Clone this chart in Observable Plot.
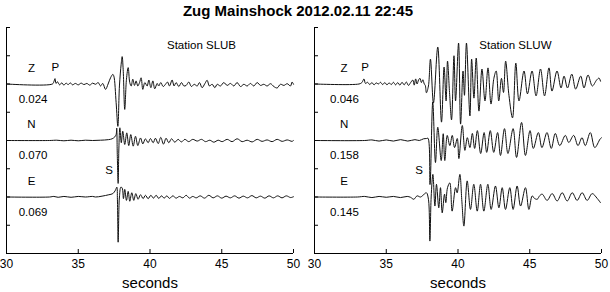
<!DOCTYPE html>
<html><head><meta charset="utf-8">
<script src="https://cdn.jsdelivr.net/npm/d3@7"></script>
<script src="https://cdn.jsdelivr.net/npm/@observablehq/plot@0.6"></script>
<style>
body{margin:0;background:#fff;}
#wrap{position:relative;width:610px;height:292px;overflow:hidden;font-family:"Liberation Sans",Arial,Helvetica,sans-serif;background:#fff;}
#title{position:absolute;top:2px;left:0;width:596px;text-align:center;font-weight:bold;font-size:15px;line-height:17px;z-index:2;}
.panel{position:absolute;top:0;}
</style></head><body>
<div id="wrap"><div id="title">Zug Mainshock 2012.02.11 22:45</div></div>
<script>
// ---------- data ----------
const title = "Zug Mainshock 2012.02.11 22:45";
const stations = ["Station SLUB", "Station SLUW"];
const components = ["Z", "N", "E"];
const slubAmps = ["0.024", "0.070", "0.069"];
const sluwAmps = ["0.046", "0.158", "0.145"];
const xTicks = [30, 35, 40, 45, 50];
const pPick = [33.41, 33.52];
const sPick = [37.14, 37.28];

const slubZ = [[30,0],[33.2,0],[33.3,0.08],[33.38,0.19],[33.45,0.02],[33.55,0.08],[33.7,-0.03],[33.85,0.04],[34.0,-0.04],[34.15,0.03],[34.3,-0.02],[34.45,0.04],[34.6,-0.03],[34.8,0.02],[35.0,-0.03],[35.2,0.03],[35.4,-0.02],[35.6,0.02],[35.8,-0.04],[36.0,0.03],[36.2,-0.01],[36.39,0.05],[36.55,-0.07],[36.71,0.02],[36.9,-0.19],[37.08,0],[37.25,0.22],[37.41,0.34],[37.48,0.28],[37.64,-0.66],[37.76,-1.5],[37.87,-0.07],[37.99,0.7],[38.06,0.97],[38.13,0.52],[38.24,-0.9],[38.36,0.17],[38.48,0.58],[38.59,0.05],[38.69,-0.07],[38.8,0.17],[38.92,-0.05],[39.03,0.11],[39.15,-0.07],[39.27,0.05],[39.38,0.22],[39.5,-0.19],[39.64,0.05],[39.8,-0.07],[39.92,0.14],[40.06,-0.13],[40.2,0.11],[40.33,-0.17],[40.5,0.02],[40.61,-0.07],[40.75,0.05],[40.92,-0.09],[41.08,-0.01],[41.22,0.07],[41.36,-0.07],[41.54,0.14],[41.68,-0.07],[41.82,0.05],[42.01,-0.09],[42.19,0.05],[42.36,-0.07],[42.52,-0.05],[42.7,0.07],[42.89,-0.09],[43.08,-0.01],[43.29,-0.07],[43.45,0.05],[43.63,-0.13],[43.82,0.01],[43.98,0.13],[44.14,-0.07],[44.33,-0.01],[44.52,-0.13],[44.68,-0.01],[44.91,-0.07],[45.14,0.05],[45.38,-0.05],[45.61,0.02],[45.84,-0.07],[46.07,0.05],[46.31,-0.09],[46.54,-0.01],[46.77,-0.07],[47.0,0.02],[47.23,-0.07],[47.47,0.05],[47.7,-0.05],[47.93,-0.01],[48.16,-0.07],[48.4,0.01],[48.63,-0.09],[48.86,-0.14],[49.09,-0.01],[49.33,-0.05],[49.56,0.01],[49.79,-0.07],[49.9,0.07],[50.0,-0.01]];

const slubN = [[30,0],[33.0,0],[33.5,0.01],[34.0,-0.01],[34.5,0.01],[35.0,-0.01],[35.5,0.01],[36.0,0],[36.55,0.01],[37.1,0.03],[37.36,0.06],[37.55,0.13],[37.64,0.21],[37.68,0.44],[37.72,-0.5],[37.78,-1.52],[37.83,-0.3],[37.9,0.45],[38.0,-0.08],[38.1,0.33],[38.24,-0.14],[38.38,0.27],[38.52,-0.18],[38.66,0.21],[38.83,-0.2],[38.99,0.15],[39.15,-0.18],[39.34,0.09],[39.5,-0.12],[39.68,0.06],[39.87,-0.08],[40.03,0.07],[40.22,-0.08],[40.38,0.08],[40.57,-0.11],[40.75,0.11],[40.94,-0.13],[41.12,0.08],[41.31,-0.08],[41.5,0.06],[41.73,-0.06],[41.96,0.04],[42.19,-0.05],[42.43,0.04],[42.7,-0.04],[42.98,0.04],[43.29,-0.02],[43.59,0.04],[43.87,-0.04],[44.17,0.01],[44.45,-0.06],[44.75,0.01],[45.03,-0.04],[45.38,0.04],[45.72,-0.04],[46.07,0.06],[46.42,-0.04],[46.77,0.01],[47.12,-0.05],[47.47,0.04],[47.81,-0.03],[48.16,0.02],[48.51,-0.04],[48.86,0.04],[49.21,-0.03],[49.56,0.02],[49.9,-0.03],[50.0,0]];

const slubE = [[30,0],[33.0,0],[33.3,0.02],[33.6,-0.01],[34.0,0.02],[34.5,-0.01],[35.0,0.02],[35.5,0],[36.0,0.02],[36.2,0],[36.66,0.03],[37.13,0.08],[37.41,0.12],[37.59,0.24],[37.69,0.35],[37.73,-0.1],[37.78,-1.6],[37.84,-0.3],[37.87,0.0],[37.97,0.35],[38.06,0.32],[38.15,-0.06],[38.24,0.27],[38.36,-0.12],[38.48,0.2],[38.59,-0.15],[38.73,0.15],[38.87,-0.12],[39.01,0.12],[39.17,-0.08],[39.34,0.08],[39.52,-0.06],[39.68,0.06],[39.87,-0.06],[40.06,0.06],[40.24,-0.04],[40.43,0.06],[40.61,-0.05],[40.8,0.04],[40.99,-0.04],[41.17,0.04],[41.36,-0.05],[41.59,0.04],[41.82,-0.04],[42.05,0.02],[42.29,-0.03],[42.52,0.06],[42.75,-0.04],[42.98,0.02],[43.22,-0.03],[43.5,0.04],[43.8,-0.04],[44.1,0.06],[44.4,-0.03],[44.7,0.04],[45.0,-0.04],[45.3,0.03],[45.6,-0.03],[45.9,0.04],[46.2,-0.04],[46.5,0.03],[46.8,-0.03],[47.1,0.05],[47.4,-0.03],[47.7,0.03],[48.0,-0.04],[48.3,0.04],[48.6,-0.03],[48.9,0.04],[49.2,-0.03],[49.5,0.04],[49.8,-0.02],[50.0,0.01]];

const sluwZ = [[30,0],[33.1,0],[33.3,0.05],[33.45,0.18],[33.55,0.02],[33.7,0.06],[33.85,-0.02],[34.0,0.05],[34.15,-0.03],[34.3,0.04],[34.45,0.0],[34.6,0.06],[34.75,-0.02],[34.9,0.05],[35.05,-0.03],[35.2,0.04],[35.35,-0.02],[35.5,0.06],[35.65,-0.03],[35.8,0.05],[35.95,-0.04],[36.1,0.06],[36.25,-0.03],[36.4,0.07],[36.55,-0.05],[36.7,0.05],[36.85,0.14],[36.95,-0.04],[37.05,0.18],[37.15,0.0],[37.25,0.14],[37.35,0.2],[37.45,0.05],[37.55,0.15],[37.65,0.0],[37.72,-0.05],[37.8,-0.31],[37.94,-0.07],[38.08,0.88],[38.29,-0.67],[38.59,1.31],[38.85,-1.35],[39.03,0.6],[39.17,-0.6],[39.27,0.81],[39.41,-0.3],[39.55,-1.27],[39.72,1.0],[39.83,-0.6],[40.04,1.45],[40.18,-1.42],[40.35,0.46],[40.45,-0.4],[40.59,1.45],[40.83,-1.13],[40.95,0.88],[41.11,-0.5],[41.27,0.92],[41.46,-0.96],[41.67,0.53],[41.88,-0.6],[42.09,0.57],[42.3,-0.71],[42.5,0.2],[42.66,0.46],[42.84,-0.6],[43.03,0.2],[43.17,-0.3],[43.32,0.81],[43.55,-0.4],[43.8,-1.2],[44.03,0.74],[44.25,-0.6],[44.6,0.46],[44.84,-0.35],[45.16,0.46],[45.44,-0.42],[45.75,0.53],[46.03,-0.42],[46.34,0.57],[46.55,-0.25],[46.9,0.46],[47.18,-0.14],[47.39,0.28],[47.63,-0.14],[47.93,0.35],[48.2,-0.18],[48.55,0.28],[48.78,-0.14],[49.06,0.32],[49.36,-0.07],[49.66,0.14],[49.83,0.21],[49.93,0.1]];

const sluwN = [[30,0],[33.5,0],[34.0,0.02],[34.5,-0.02],[35.0,0.02],[35.5,-0.02],[36.0,0.03],[36.5,-0.02],[37.0,0.03],[37.3,0.0],[37.6,0.06],[37.8,0.07],[37.91,0.08],[38.05,-1.56],[38.24,1.36],[38.43,-0.78],[38.59,0.47],[38.83,-0.71],[38.97,0.24],[39.08,-0.71],[39.25,0.18],[39.43,-0.18],[39.6,0.18],[39.76,-0.25],[39.95,0.07],[40.06,-0.64],[40.3,0.53],[40.48,-0.35],[40.65,0.1],[40.83,-0.25],[41.0,0.25],[41.16,-0.28],[41.35,0.35],[41.58,-0.46],[41.82,0.28],[42.0,-0.42],[42.25,0.35],[42.49,-0.42],[42.76,0.28],[42.96,-0.53],[43.24,0.42],[43.48,-0.46],[43.84,0.42],[44.08,-0.6],[44.43,0.64],[44.7,-0.53],[45.02,0.35],[45.25,-0.28],[45.6,0.28],[45.85,-0.25],[46.2,0.28],[46.5,-0.28],[46.78,0.25],[47.09,-0.18],[47.48,0.18],[47.72,-0.07],[48.06,0.18],[48.36,-0.18],[48.64,0.1],[48.87,-0.18],[49.22,0.28],[49.53,-0.25],[49.9,0.05],[50.0,0.1]];

const sluwE = [[30,0],[33.0,0],[33.5,0.02],[34.0,-0.02],[34.5,0.02],[35.0,-0.01],[35.5,0.02],[35.99,-0.02],[36.46,0.02],[36.69,-0.01],[36.92,-0.08],[37.15,0.04],[37.39,0],[37.62,0.09],[37.8,0.15],[37.94,-0.08],[38.04,-1.56],[38.13,0.0],[38.25,0.8],[38.39,-0.32],[38.5,0.45],[38.66,-0.38],[38.78,0.33],[38.9,-0.56],[39.06,0.1],[39.15,-0.2],[39.27,0.33],[39.43,0.5],[39.59,-0.5],[39.83,0.33],[39.94,0.15],[40.13,0.8],[40.27,-0.15],[40.41,-1.03],[40.64,0.57],[40.87,-0.44],[41.1,0.45],[41.34,-0.5],[41.57,0.45],[41.8,-0.5],[42.08,0.45],[42.31,-0.44],[42.61,0.39],[42.85,-0.38],[43.08,0.33],[43.31,-0.44],[43.61,0.33],[43.84,-0.44],[44.12,0.39],[44.36,-0.32],[44.7,0.33],[44.94,-0.44],[45.17,0.04],[45.33,-0.05],[45.52,-0.08],[45.7,0.05],[45.87,0.1],[46.21,-0.12],[46.56,0.12],[46.91,-0.14],[47.26,0.15],[47.61,-0.14],[47.96,0.15],[48.3,-0.12],[48.65,0.15],[49.0,-0.12],[49.35,0.12],[49.7,-0.05],[49.93,-0.2]];

// ---------- layout ----------
const FONT = '"Liberation Sans", Arial, Helvetica, sans-serif';
const offsets = [6, 4, 2];   // trace baselines, in y-tick units (top to bottom)
const yTicks = d3.range(0, 9);

function panel(traces, amps, station, pT, sT, opts) {
  const W = 305, H = 292, mt = 27, mb = 39;
  const fw = W - opts.ml - opts.mr, fh = H - mt - mb;
  const rows = [];
  traces.forEach((arr, i) => arr.forEach(([t, a]) => rows.push({c: components[i], t, y: offsets[i] + a})));
  const labels = [];
  components.forEach((c, i) => {
    labels.push({text: c, t: opts.compT, y: offsets[i] + 0.57});
    labels.push({text: amps[i], t: opts.ampT, y: offsets[i] - 0.53});
  });
  labels.push({text: "P", t: pT, y: offsets[0] + 0.58});
  labels.push({text: "S", t: sT, y: offsets[2] + 0.95});
  return Plot.plot({
    width: W, height: H,
    marginTop: mt, marginBottom: mb, marginLeft: opts.ml, marginRight: opts.mr,
    style: {fontFamily: FONT, fontSize: "12px", background: "transparent", color: "#000", overflow: "visible"},
    x: {domain: [30, 50], ticks: xTicks, tickSize: 0, tickPadding: 6, label: null},
    y: {domain: [0, 8], axis: null},
    marks: [
      Plot.ruleX([30], {stroke: "#000", strokeWidth: 1}),
      Plot.ruleY([0], {stroke: "#000", strokeWidth: 1}),
      Plot.tickX(xTicks, {x: d => d, insetTop: fh - 4, stroke: "#000"}),
      Plot.tickY(yTicks, {y: d => d, insetRight: fw - 4, stroke: "#000"}),
      Plot.line(rows, {x: "t", y: "y", z: "c", stroke: "#111", strokeWidth: 1, curve: "catmull-rom"}),
      Plot.text(labels, {x: "t", y: "y", text: "text", fontSize: 11.5, fill: "#000"}),
      Plot.text([station], {x: opts.stT, y: 7.36, text: d => d, fontSize: 11.5, fill: "#000"}),
      Plot.text(["seconds"], {frameAnchor: "bottom", dy: 30, lineAnchor: "middle", fontSize: 15, fill: "#000"})
    ]
  });
}

const wrap = document.getElementById("wrap");
const left = panel([slubZ, slubN, slubE], slubAmps, stations[0], pPick[0], sPick[0],
  {ml: 6, mr: 12, compT: 31.74, ampT: 31.85, stT: 43.59});
const right = panel([sluwZ, sluwN, sluwE], sluwAmps, stations[1], pPick[1], sPick[1],
  {ml: 9, mr: 9, compT: 32.06, ampT: 32.09, stT: 44.0});
left.classList.add("panel"); left.style.left = "0px";
right.classList.add("panel"); right.style.left = "305px";
wrap.appendChild(left);
wrap.appendChild(right);
</script>
</body></html>
